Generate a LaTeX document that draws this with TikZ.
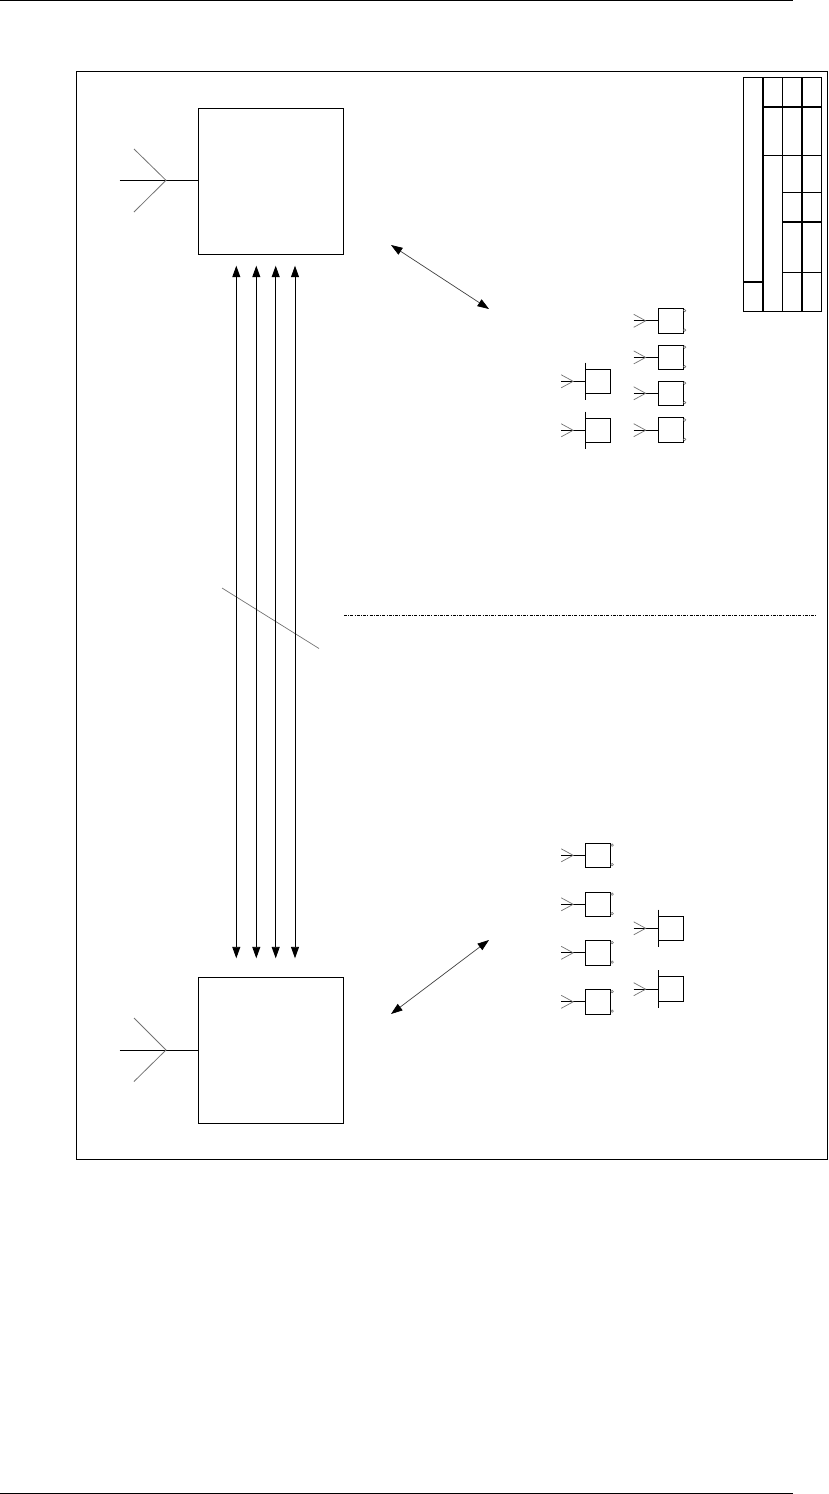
\documentclass[tikz,border=0pt]{standalone}
\usetikzlibrary{arrows.meta}
\tikzset{
  px/.style={x=1pt,y=-1pt},
  ln/.style={draw=black,line width=1pt},
  thick line/.style={draw=black,line width=1.7pt},
  arm/.style={draw=black!55,line width=.7pt},
  bx/.style={draw=black,line width=1pt,fill=white,inner sep=0pt,outer sep=0pt},
  bigbox/.style={bx,minimum width=145pt,minimum height=146pt},
  smallbox/.style={bx,minimum width=25pt,minimum height=24.5pt},
  port/.style={circle,draw=black!60,line width=.5pt,inner sep=0pt,minimum size=2.6pt},
  dbl/.style={draw=black,line width=.9pt,{Triangle[length=11.5pt,width=8pt,color=black,fill=black]}-{Triangle[length=11.5pt,width=8pt,color=black,fill=black]},shorten >=0pt,shorten <=0pt}
}
% small unit: #1 name, #2 x centre, #3 y centre
\newcommand{\unitbox}[3]{%
  \node[smallbox] (#1) at (#2,#3) {};
  \coordinate (#1tip) at ([xshift=-12.3pt]#1.west);
  \coordinate (#1end) at ([xshift=-24.3pt]#1.west);
  \coordinate (#1up) at ([xshift=-24.3pt,yshift=6.5pt]#1.west);
  \coordinate (#1dn) at ([xshift=-24.3pt,yshift=-6.5pt]#1.west);
  \draw[ln] (#1end) -- (#1.west);
  \draw[arm] (#1up) -- (#1tip) -- (#1dn);
}
\newcommand{\unitports}[1]{%
  \node[port] (#1pa) at ([xshift=1.6pt,yshift=-2pt]#1.north east) {};
  \node[port] (#1pb) at ([xshift=1.6pt,yshift=3pt]#1.south east) {};
}
\newcommand{\unitbar}[1]{%
  \coordinate (#1bt) at ([yshift=6.5pt]#1.north west);
  \coordinate (#1bb) at ([yshift=-6.5pt]#1.south west);
  \draw[ln] (#1bt) -- (#1bb);
}
\begin{document}
\begin{tikzpicture}[px]
\useasboundingbox (0,0) rectangle (829,1494);
% page rules
\coordinate (hl) at (0,0.6); \coordinate (hr) at (793,0.6);
\coordinate (fl) at (0,1493.4); \coordinate (fr) at (793,1493.4);
\draw[ln] (hl) -- (hr);
\draw[ln] (fl) -- (fr);
% frame
\node[bx,fill=none,minimum width=751.5pt,minimum height=1088pt] (frame) at (452.2,615) {};
% table
\coordinate (tTL) at (743.4,77.5); \coordinate (tBR) at (821,311);
\draw[ln] (tTL) rectangle (tBR);
\coordinate (c1t) at (763,77.5); \coordinate (c1b) at (763,311);
\coordinate (c2t) at (782.5,77.5); \coordinate (c2b) at (782.5,311);
\coordinate (c3t) at (801.7,77.5); \coordinate (c3b) at (801.7,311);
\draw[thick line] (c1t) -- (c1b);
\draw[ln] (c2t) -- (c2b);
\draw[thick line] (c3t) -- (c3b);
\coordinate (r1a) at (763,106.7); \coordinate (r1b) at (821,106.7);
\coordinate (r2a) at (763,155); \coordinate (r2b) at (821,155);
\coordinate (r3a) at (782.5,192.3); \coordinate (r3b) at (821,192.3);
\coordinate (r4a) at (782.5,221.7); \coordinate (r4b) at (821,221.7);
\coordinate (r5a) at (782.5,272); \coordinate (r5b) at (821,272);
\coordinate (r6a) at (743.4,281.7); \coordinate (r6b) at (763,281.7);
\draw[thick line] (r1a) -- (r1b);
\draw[ln] (r2a) -- (r2b);
\draw[ln] (r3a) -- (r3b);
\draw[thick line] (r4a) -- (r4b);
\draw[ln] (r5a) -- (r5b);
\draw[thick line] (r6a) -- (r6b);
% large boxes
\node[bigbox] (top) at (270.8,181.3) {};
\node[bigbox] (bot) at (270.8,1050.2) {};
% large antennas
\coordinate (tj) at (166,180.3); \coordinate (te) at (119.5,180.3);
\coordinate (tu) at (134,149); \coordinate (td) at (134,212);
\draw[ln] (te) -- (tj -| top.west);
\draw[arm,line width=.8pt] (tu) -- (tj) -- (td);
\coordinate (bj) at (166,1050); \coordinate (be) at (119.5,1050);
\coordinate (bu) at (134,1018); \coordinate (bd) at (134,1081.5);
\draw[ln] (be) -- (bj -| bot.west);
\draw[arm,line width=.8pt] (bu) -- (bj) -- (bd);
% crossing stroke and dotted line
\coordinate (s1) at (222,588); \coordinate (s2) at (319,648.5);
\draw[arm,line width=.7pt] (s1) -- (s2);
\coordinate (dl) at (344,615.3); \coordinate (dr) at (817,615.3);
\draw[draw=black,line width=.9pt,dash pattern=on 3pt off 1.2pt on 1pt off 1.2pt] (dl) -- (dr);
% vertical arrows
\foreach \n/\x in {a/236.3,b/256.3,c/275.7,d/295}{
  \coordinate (u\n) at (\x,265.7);
  \coordinate (l\n) at (\x,958.3);
  \draw[dbl] (u\n) -- (l\n);
}
% diagonal arrows
\coordinate (da1) at (391,245); \coordinate (da2) at (489,309);
\draw[dbl,draw=black!75,line width=.7pt] (da1) -- (da2);
\coordinate (db1) at (489,940); \coordinate (db2) at (391,1014);
\draw[dbl,draw=black!75,line width=.7pt] (db1) -- (db2);
% upper cluster, right column
\unitbox{ra}{670.5}{320.8}\unitports{ra}
\unitbox{rb}{670.5}{357.4}\unitports{rb}
\unitbox{rc}{670.5}{393.3}\unitports{rc}
\unitbox{rd}{670.5}{430.2}\unitports{rd}
% upper cluster, left column
\unitbox{la}{598}{381.3}\unitbar{la}
\unitbox{lb}{598}{430.3}\unitbar{lb}
% lower cluster, left column
\unitbox{pa}{598}{855.3}\unitports{pa}
\unitbox{pb}{598}{904.3}\unitports{pb}
\unitbox{pc}{598}{952.8}\unitports{pc}
\unitbox{pd}{598}{1001.8}\unitports{pd}
% lower cluster, right column
\unitbox{qa}{670.5}{928.3}\unitbar{qa}
\unitbox{qb}{670.5}{989.2}\unitbar{qb}
\end{tikzpicture}
\end{document}
